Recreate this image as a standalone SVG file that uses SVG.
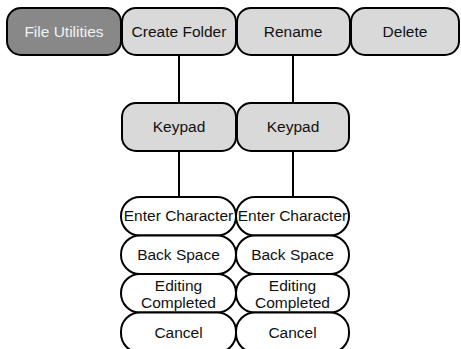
<svg xmlns="http://www.w3.org/2000/svg" width="461" height="349" viewBox="0 0 461 349">
<style>
.b{stroke:#000;stroke-width:2}
.top{fill:#d9d9d9}
.dark{fill:#888}
.sub{fill:#fff}
text{font-family:"Liberation Sans",Arial,sans-serif;font-size:15.5px;fill:#111;text-anchor:middle}
.wt{fill:#f2f2f2}
.c{stroke:#000;stroke-width:2;fill:none}
</style>
<g id="connectors">
<line class="c" x1="179" y1="55" x2="179" y2="103"/>
<line class="c" x1="293" y1="55" x2="293" y2="103"/>
<line class="c" x1="179" y1="151" x2="179" y2="197"/>
<line class="c" x1="293" y1="151" x2="293" y2="197"/>
</g>
<g id="file-utilities"><rect class="b dark" x="7" y="8" width="114" height="47" rx="14"/><text class="wt" x="64" y="37">File Utilities</text></g>
<g id="create-folder"><rect class="b top" x="122" y="8" width="114" height="47" rx="14"/><text x="179" y="37">Create Folder</text></g>
<g id="rename"><rect class="b top" x="237" y="8" width="113" height="47" rx="14"/><text x="293" y="37">Rename</text></g>
<g id="delete"><rect class="b top" x="351" y="8" width="108" height="47" rx="14"/><text x="405" y="37">Delete</text></g>
<g id="keypad-1"><rect class="b top" x="122" y="103" width="114" height="48" rx="14"/><text x="179" y="132">Keypad</text></g>
<g id="keypad-2"><rect class="b top" x="237" y="103" width="112" height="48" rx="14"/><text x="293" y="132">Keypad</text></g>
<g id="enter-1"><rect class="b sub" x="121" y="197" width="115" height="38.5" rx="19"/><text x="178.5" y="221">Enter Character</text></g>
<g id="back-1"><rect class="b sub" x="121" y="235.5" width="115" height="38.5" rx="19"/><text x="178.5" y="260">Back Space</text></g>
<g id="edit-1"><rect class="b sub" x="121" y="274" width="115" height="38.5" rx="19"/><text x="178.5" y="291">Editing</text><text x="178.5" y="308">Completed</text></g>
<g id="cancel-1"><rect class="b sub" x="121" y="312.5" width="115" height="40" rx="19"/><text x="178.5" y="338">Cancel</text></g>
<g id="enter-2"><rect class="b sub" x="236" y="197" width="113" height="38.5" rx="19"/><text x="292.5" y="221">Enter Character</text></g>
<g id="back-2"><rect class="b sub" x="236" y="235.5" width="113" height="38.5" rx="19"/><text x="292.5" y="260">Back Space</text></g>
<g id="edit-2"><rect class="b sub" x="236" y="274" width="113" height="38.5" rx="19"/><text x="292.5" y="291">Editing</text><text x="292.5" y="308">Completed</text></g>
<g id="cancel-2"><rect class="b sub" x="236" y="312.5" width="113" height="40" rx="19"/><text x="292.5" y="338">Cancel</text></g>
</svg>
